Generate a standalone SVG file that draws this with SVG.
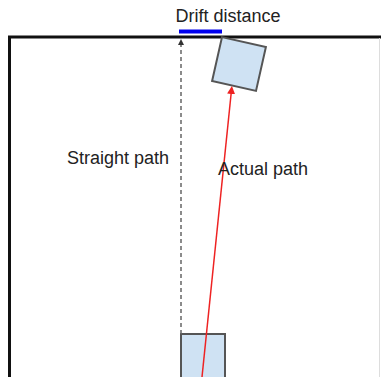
<svg xmlns="http://www.w3.org/2000/svg" width="381" height="377" viewBox="0 0 381 377">
<style>
.lbl{font-family:"Liberation Sans",Arial,sans-serif;font-size:18px;fill:#222}
.box{fill:#cfe2f3;stroke:#555;stroke-width:2}
</style>
<defs>
<marker id="ar" markerWidth="8" markerHeight="8" refX="4" refY="4" orient="auto" markerUnits="userSpaceOnUse">
<path d="M0,0 L8,4 L0,8 Z" fill="#ee2222"/>
</marker>
<marker id="ak" markerWidth="6" markerHeight="6" refX="3" refY="3" orient="auto" markerUnits="userSpaceOnUse">
<path d="M0,0 L6,3 L0,6 Z" fill="#333"/>
</marker>
</defs>
<rect width="381" height="377" fill="#fff"/>
<g id="frame">
<path d="M9.5,377 V37 H381" fill="none" stroke="#111" stroke-width="3"/>
<line x1="379.5" y1="38" x2="379.5" y2="377" stroke="#ddd" stroke-width="1"/>
</g>
<g id="drift">
<line x1="179" y1="31.5" x2="222" y2="31.5" stroke="#0000ee" stroke-width="4"/>
<text class="lbl" x="228" y="22" text-anchor="middle">Drift distance</text>
</g>
<g id="start-box">
<rect class="box" x="181" y="334" width="44" height="50"/>
</g>
<g id="end-box">
<rect class="box" x="216.5" y="41.5" width="45" height="45" transform="rotate(12.7 239 64)"/>
</g>
<g id="connectors">
<line x1="181" y1="334" x2="181" y2="42" stroke="#666" stroke-width="1.5" stroke-dasharray="4,3" marker-end="url(#ak)"/>
<line x1="202" y1="377" x2="231.5" y2="90" stroke="#ee2222" stroke-width="1.5" marker-end="url(#ar)"/>
</g>
<g id="labels">
<text class="lbl" x="67" y="164">Straight path</text>
<text class="lbl" x="218" y="175">Actual path</text>
</g>
</svg>
